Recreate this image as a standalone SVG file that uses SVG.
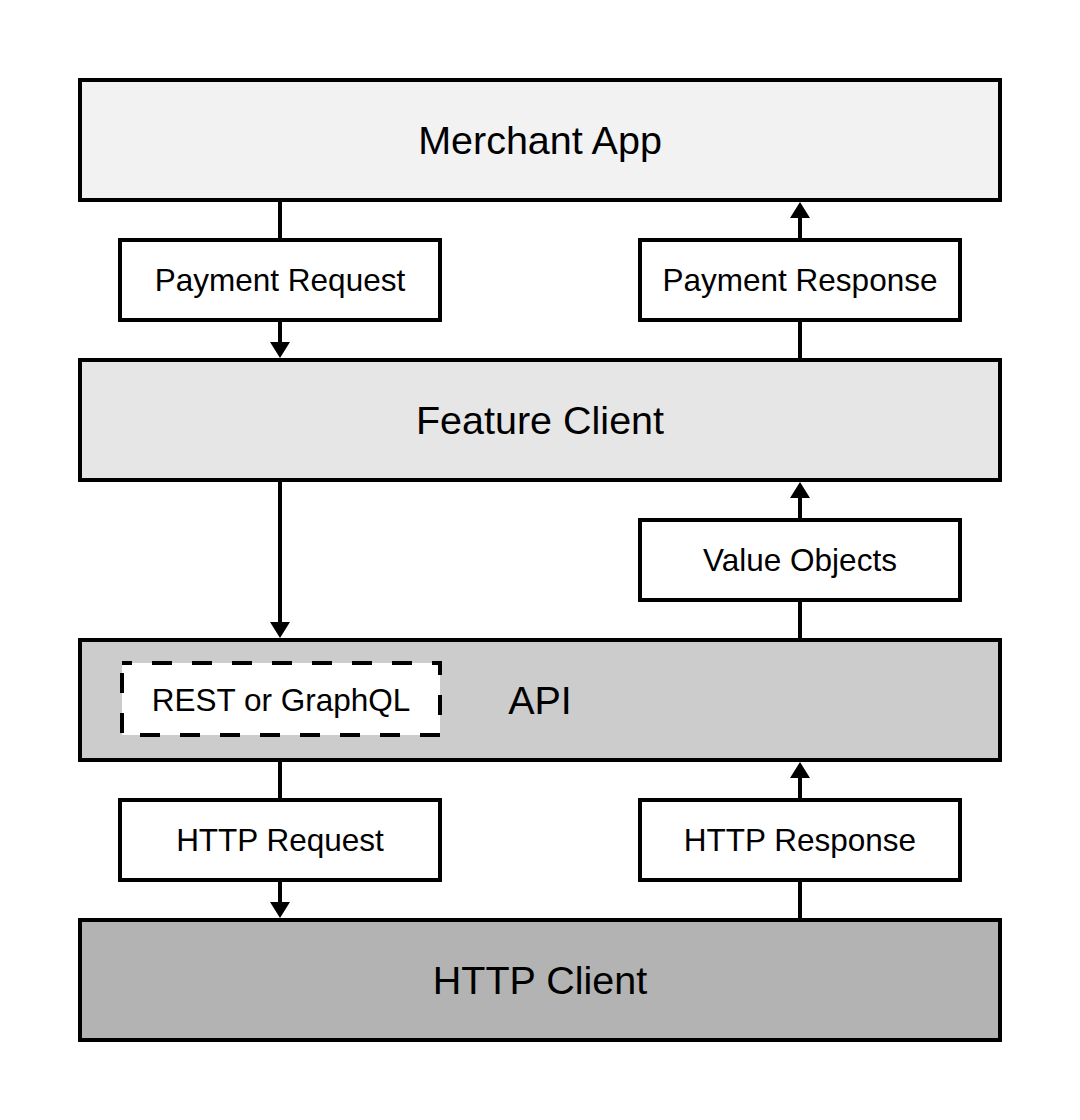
<svg xmlns="http://www.w3.org/2000/svg" width="1080" height="1120" viewBox="0 0 1080 1120">
<style>
.box{stroke:#000;stroke-width:4}
.lbl{fill:#fff;stroke:#000;stroke-width:4}
.main{font-family:"Liberation Sans",Arial,Helvetica,sans-serif;font-size:39.5px;text-anchor:middle;fill:#000}
.small{font-family:"Liberation Sans",Arial,Helvetica,sans-serif;font-size:31.5px;text-anchor:middle;fill:#000}
.conn line{stroke:#000;stroke-width:4}
.conn polygon{fill:#000}
</style>
<rect width="1080" height="1120" fill="#fff"/>
<g id="merchant-app">
<rect class="box" x="80" y="80" width="920" height="120" fill="#f2f2f2"/>
<text class="main" x="540" y="154">Merchant App</text>
</g>
<g id="feature-client">
<rect class="box" x="80" y="360" width="920" height="120" fill="#e6e6e6"/>
<text class="main" x="540" y="434">Feature Client</text>
</g>
<g id="api">
<rect class="box" x="80" y="640" width="920" height="120" fill="#cccccc"/>
<text class="main" x="540" y="714">API</text>
</g>
<g id="rest-graphql">
<rect x="122" y="663" width="318" height="72" fill="#fff" stroke="#000" stroke-width="4" stroke-dasharray="20 20" stroke-dashoffset="10"/>
<text class="small" x="281" y="711">REST or GraphQL</text>
</g>
<g id="http-client">
<rect class="box" x="80" y="920" width="920" height="120" fill="#b3b3b3"/>
<text class="main" x="540" y="994">HTTP Client</text>
</g>
<g class="conn" id="connectors">
<line x1="280" y1="200" x2="280" y2="240"/>
<line x1="280" y1="320" x2="280" y2="344"/>
<polygon points="270,342 290,342 280,358"/>
<line x1="800" y1="360" x2="800" y2="320"/>
<line x1="800" y1="240" x2="800" y2="216"/>
<polygon points="790,218 810,218 800,202"/>
<line x1="280" y1="480" x2="280" y2="624"/>
<polygon points="270,622 290,622 280,638"/>
<line x1="800" y1="640" x2="800" y2="600"/>
<line x1="800" y1="520" x2="800" y2="496"/>
<polygon points="790,498 810,498 800,482"/>
<line x1="280" y1="760" x2="280" y2="800"/>
<line x1="280" y1="880" x2="280" y2="904"/>
<polygon points="270,902 290,902 280,918"/>
<line x1="800" y1="920" x2="800" y2="880"/>
<line x1="800" y1="800" x2="800" y2="776"/>
<polygon points="790,778 810,778 800,762"/>
</g>
<g id="payment-request">
<rect class="lbl" x="120" y="240" width="320" height="80"/>
<text class="small" x="280" y="291">Payment Request</text>
</g>
<g id="payment-response">
<rect class="lbl" x="640" y="240" width="320" height="80"/>
<text class="small" x="800" y="291">Payment Response</text>
</g>
<g id="value-objects">
<rect class="lbl" x="640" y="520" width="320" height="80"/>
<text class="small" x="800" y="571">Value Objects</text>
</g>
<g id="http-request">
<rect class="lbl" x="120" y="800" width="320" height="80"/>
<text class="small" x="280" y="851">HTTP Request</text>
</g>
<g id="http-response">
<rect class="lbl" x="640" y="800" width="320" height="80"/>
<text class="small" x="800" y="851">HTTP Response</text>
</g>
</svg>
